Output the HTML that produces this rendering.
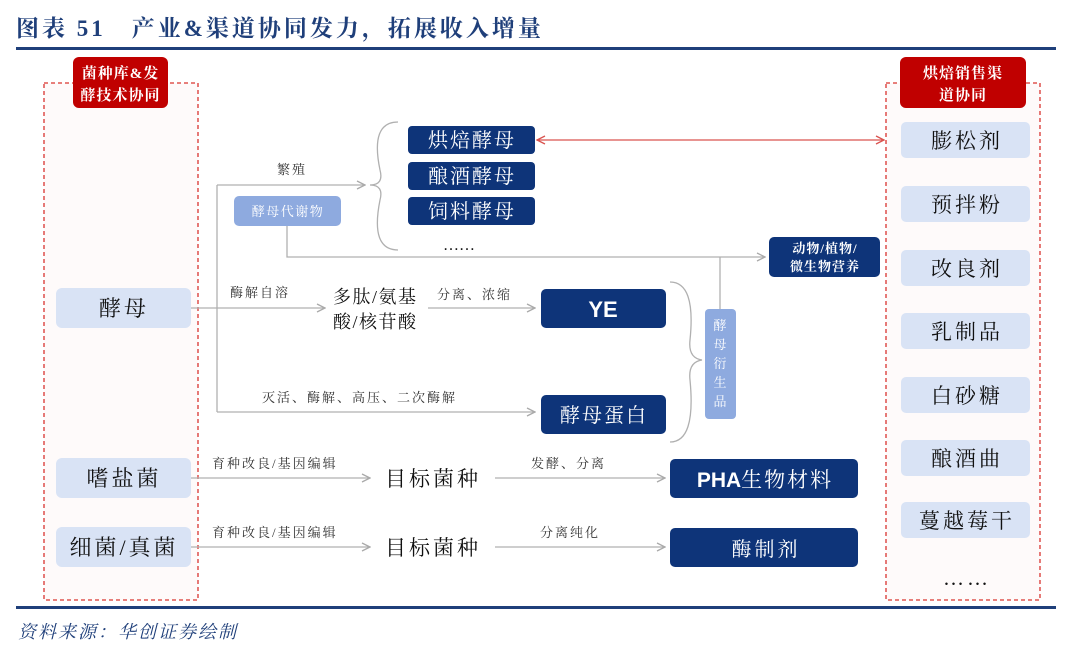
<!DOCTYPE html>
<html><head><meta charset="utf-8"><style>
body{margin:0;background:#fff;}
svg{display:block;font-family:"Liberation Serif","Noto Serif CJK SC",serif;}
</style></head><body>
<svg width="1080" height="654" viewBox="0 0 1080 654" xmlns="http://www.w3.org/2000/svg">
<defs>
<marker id="ag" markerWidth="10" markerHeight="10" refX="9" refY="5" orient="auto" markerUnits="userSpaceOnUse"><path d="M1,1 L9,5 L1,9" fill="none" stroke="#aaa" stroke-width="1.3"/></marker>
<marker id="ar" markerWidth="10" markerHeight="10" refX="9" refY="5" orient="auto-start-reverse" markerUnits="userSpaceOnUse"><path d="M1,1 L9,5 L1,9" fill="none" stroke="#d9534f" stroke-width="1.3"/></marker>
</defs>
<text x="16" y="36" font-size="23" font-weight="bold" fill="#1f3f7a" letter-spacing="3">图表 51　产业&amp;渠道协同发力，拓展收入增量</text>
<rect x="16" y="47" width="1040" height="3" fill="#1f3f7a"/>
<rect x="16" y="606" width="1040" height="3" fill="#1f3f7a"/>
<text x="18" y="638" font-size="18" font-style="italic" fill="#1f3f7a" letter-spacing="2">资料来源：华创证券绘制</text>

<rect x="44" y="83" width="154" height="517" fill="#fefafa" stroke="#d9342f" stroke-width="1.3" stroke-dasharray="4,3"/>
<rect x="73" y="57" width="95" height="51" rx="6" fill="#c00000"/>
<text x="120.5" y="78" font-size="15" fill="#fff" text-anchor="middle" font-weight="bold" letter-spacing="1">菌种库&amp;发</text>
<text x="120.5" y="100" font-size="15" fill="#fff" text-anchor="middle" font-weight="bold" letter-spacing="1">酵技术协同</text>
<g font-size="22" text-anchor="middle" fill="#111" letter-spacing="3">
<rect x="56" y="288" width="135" height="40" rx="6" fill="#d9e3f5"/><text x="124" y="316">酵母</text>
<rect x="56" y="458" width="135" height="40" rx="6" fill="#d9e3f5"/><text x="124" y="486">嗜盐菌</text>
<rect x="56" y="527" width="135" height="40" rx="6" fill="#d9e3f5"/><text x="124" y="555">细菌/真菌</text>
</g>

<rect x="886" y="83" width="154" height="517" fill="#fefafa" stroke="#d9342f" stroke-width="1.3" stroke-dasharray="4,3"/>
<rect x="900" y="57" width="126" height="51" rx="6" fill="#c00000"/>
<text x="963" y="78" font-size="15" fill="#fff" text-anchor="middle" font-weight="bold" letter-spacing="1">烘焙销售渠</text>
<text x="963" y="100" font-size="15" fill="#fff" text-anchor="middle" font-weight="bold" letter-spacing="1">道协同</text>
<g font-size="21" text-anchor="middle" fill="#111" letter-spacing="3">
<rect x="901" y="122" width="129" height="36" rx="5" fill="#d9e3f5"/><text x="967" y="148">膨松剂</text>
<rect x="901" y="186" width="129" height="36" rx="5" fill="#d9e3f5"/><text x="967" y="212">预拌粉</text>
<rect x="901" y="250" width="129" height="36" rx="5" fill="#d9e3f5"/><text x="967" y="276">改良剂</text>
<rect x="901" y="313" width="129" height="36" rx="5" fill="#d9e3f5"/><text x="967" y="339">乳制品</text>
<rect x="901" y="377" width="129" height="36" rx="5" fill="#d9e3f5"/><text x="967" y="403">白砂糖</text>
<rect x="901" y="440" width="129" height="36" rx="5" fill="#d9e3f5"/><text x="967" y="466">酿酒曲</text>
<rect x="901" y="502" width="129" height="36" rx="5" fill="#d9e3f5"/><text x="967" y="528">蔓越莓干</text>
<text x="967" y="585">……</text>
</g>

<g stroke="#b0b0b0" stroke-width="1.3" fill="none">
<path d="M191,308 H217 M217,185 V412"/>
<path d="M217,185 H365" marker-end="url(#ag)"/>
<path d="M217,308 H325" marker-end="url(#ag)"/>
<path d="M217,412 H535" marker-end="url(#ag)"/>
<path d="M428,308 H535" marker-end="url(#ag)"/>
<path d="M287,226 V257 H765" marker-end="url(#ag)"/>
<path d="M720,257 V310"/>
<path d="M191,478 H370" marker-end="url(#ag)"/>
<path d="M495,478 H665" marker-end="url(#ag)"/>
<path d="M191,547 H370" marker-end="url(#ag)"/>
<path d="M495,547 H665" marker-end="url(#ag)"/>
<path d="M398,122 Q370,122 380,170 Q384,185 370,185 Q384,185 380,200 Q370,250 398,250" />
<path d="M670,282 Q696,282 690,340 Q688,358 702,360 Q688,362 690,380 Q696,442 670,442"/>
</g>
<path d="M537,140 H884" stroke="#d9534f" stroke-width="1.3" fill="none" marker-start="url(#ar)" marker-end="url(#ar)"/>

<g font-size="13" fill="#333" letter-spacing="2">
<text x="277" y="174">繁殖</text>
<text x="230" y="297">酶解自溶</text>
<text x="437" y="299">分离、浓缩</text>
<text x="262" y="402">灭活、酶解、高压、二次酶解</text>
<text x="212" y="468">育种改良/基因编辑</text>
<text x="531" y="468">发酵、分离</text>
<text x="212" y="537">育种改良/基因编辑</text>
<text x="540" y="537">分离纯化</text>
</g>
<g font-size="18" fill="#111" letter-spacing="1.5">
<text x="333" y="303">多肽/氨基</text>
<text x="333" y="328">酸/核苷酸</text>
<text x="385" y="486" font-size="21" letter-spacing="3">目标菌种</text>
<text x="385" y="555" font-size="21" letter-spacing="3">目标菌种</text>
</g>

<rect x="234" y="196" width="107" height="30" rx="5" fill="#8eaadf"/>
<text x="288" y="216" font-size="13" fill="#fff" text-anchor="middle" letter-spacing="1.5">酵母代谢物</text>
<rect x="705" y="309" width="31" height="110" rx="4" fill="#8eaadf"/>
<g font-size="13" fill="#fff" text-anchor="middle"><text x="720" y="330">酵</text><text x="720" y="349">母</text><text x="720" y="368">衍</text><text x="720" y="387">生</text><text x="720" y="406">品</text></g>

<g fill="#0e3479">
<rect x="408" y="126" width="127" height="28" rx="4"/>
<rect x="408" y="162" width="127" height="28" rx="4"/>
<rect x="408" y="197" width="127" height="28" rx="4"/>
<rect x="769" y="237" width="111" height="40" rx="5"/>
<rect x="541" y="289" width="125" height="39" rx="5"/>
<rect x="541" y="395" width="125" height="39" rx="5"/>
<rect x="670" y="459" width="188" height="39" rx="5"/>
<rect x="670" y="528" width="188" height="39" rx="5"/>
</g>
<g fill="#fff" text-anchor="middle" font-size="20" letter-spacing="2">
<text x="472" y="147">烘焙酵母</text>
<text x="472" y="183">酿酒酵母</text>
<text x="472" y="218">饲料酵母</text>
<text x="825" y="253" font-size="13" font-weight="bold" letter-spacing="1">动物/植物/</text>
<text x="825" y="271" font-size="13" font-weight="bold" letter-spacing="1">微生物营养</text>
<text x="603" y="317" font-family="Liberation Sans,sans-serif" font-weight="bold" font-size="22" letter-spacing="0">YE</text>
<text x="604" y="422">酵母蛋白</text>
<text x="765" y="487" font-size="21"><tspan font-family="Liberation Sans,sans-serif" font-weight="bold" letter-spacing="0">PHA</tspan>生物材料</text>
<text x="766" y="556" letter-spacing="3">酶制剂</text>
</g>
<text x="443" y="250" font-size="16" fill="#111">……</text>
</svg>
</body></html>
